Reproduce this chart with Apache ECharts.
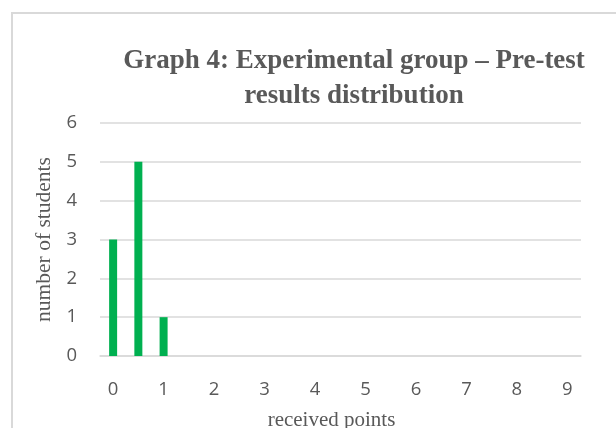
<!DOCTYPE html>
<html>
<head>
<meta charset="utf-8">
<script src="https://cdn.jsdelivr.net/npm/echarts@6/dist/echarts.min.js"></script>
<style>
html,body{margin:0;padding:0;background:#fff;width:616px;height:428px;overflow:hidden;}
#wrap{position:relative;width:616px;height:428px;overflow:hidden;}
#frame{position:absolute;left:11px;top:12px;width:620px;height:430px;border:2px solid #d9d9d9;box-sizing:border-box;}
#chart{position:absolute;left:0;top:0;width:616px;height:428px;}
</style>
</head>
<body>
<div id="wrap">
<div id="frame"></div>
<div id="chart"></div>
</div>
<script>
const titleText = 'Graph 4: Experimental group – Pre-test\nresults distribution';
const xAxisName = 'received points';
const yAxisName = 'number of students';
const points = [0, 0.5, 1];
const students = [3, 5, 1];
const xTicks = [0, 1, 2, 3, 4, 5, 6, 7, 8, 9];
const yTicks = [0, 1, 2, 3, 4, 5, 6];

const chart = echarts.init(document.getElementById('chart'), null, {renderer: 'canvas'});
const labelColor = '#595959';
chart.setOption({
  animation: false,
  title: {
    text: titleText,
    left: 349,
    top: 39,
    textAlign: 'center',
    textStyle: {
      fontFamily: 'Liberation Serif',
      fontWeight: 'bold',
      fontSize: 27,
      lineHeight: 35,
      color: labelColor
    }
  },
  grid: {left: 100, right: 35, top: 123, bottom: 72, containLabel: false, outerBoundsMode: 'none'},
  xAxis: {
    type: 'value',
    min: -0.26,
    max: 9.27,
    name: xAxisName,
    nameLocation: 'middle',
    nameGap: 54,
    nameTextStyle: {fontFamily: 'Liberation Serif', fontSize: 21, color: labelColor, padding: [0, 18, 0, 0]},
    axisLine: {show: true, lineStyle: {color: '#d9d9d9', width: 1.5}},
    axisTick: {show: false},
    splitLine: {show: false},
    axisLabel: {
      customValues: xTicks,
      fontFamily: 'Open Sans',
      fontSize: 18.5,
      color: labelColor,
      margin: 24
    }
  },
  yAxis: {
    type: 'value',
    min: 0,
    max: 6,
    interval: 1,
    name: yAxisName,
    nameLocation: 'middle',
    nameGap: 45,
    nameTextStyle: {fontFamily: 'Liberation Serif', fontSize: 21.5, color: labelColor},
    axisLine: {show: false},
    axisTick: {show: false},
    splitLine: {show: true, lineStyle: {color: '#d9d9d9', width: 1.5}},
    axisLabel: {
      fontFamily: 'Open Sans',
      fontSize: 18.5,
      color: labelColor,
      margin: 23
    }
  },
  series: [{
    type: 'bar',
    barWidth: 8,
    itemStyle: {color: '#00b050'},
    data: points.map((p, i) => [p, students[i]])
  }]
});
</script>
</body>
</html>
